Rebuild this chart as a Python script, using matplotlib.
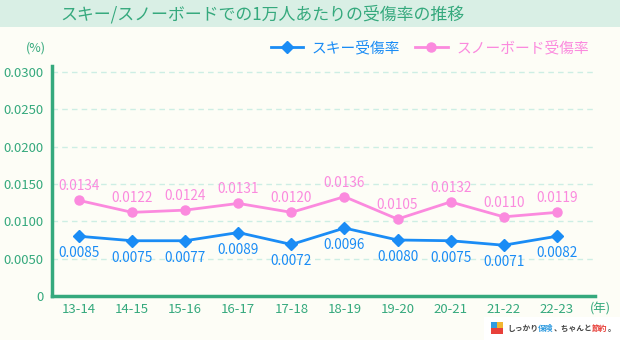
import numpy as np
import matplotlib.pyplot as plt
from matplotlib.patches import Rectangle, Wedge

plt.rcParams['font.family'] = ['Noto Sans CJK JP', 'DejaVu Sans']

seasons = ['13-14', '14-15', '15-16', '16-17', '17-18',
           '18-19', '19-20', '20-21', '21-22', '22-23']
# marker heights as drawn in the chart
ski = [0.0080, 0.0074, 0.0074, 0.0085, 0.0069, 0.0091, 0.0075, 0.0074, 0.0068, 0.0080]
snow = [0.0128, 0.0112, 0.0115, 0.0124, 0.0112, 0.0133, 0.0103, 0.0126, 0.0106, 0.0112]
# data labels printed next to each marker
ski_labels = ['0.0085', '0.0075', '0.0077', '0.0089', '0.0072',
              '0.0096', '0.0080', '0.0075', '0.0071', '0.0082']
snow_labels = ['0.0134', '0.0122', '0.0124', '0.0131', '0.0120',
               '0.0136', '0.0105', '0.0132', '0.0110', '0.0119']
yticks = [0, 0.005, 0.010, 0.015, 0.020, 0.025, 0.030]
ytick_labels = ['0', '0.0050', '0.0100', '0.0150', '0.0200', '0.0250', '0.0300']

bg = '#fdfdf6'
green = '#35a97d'
blue = '#1a8cf5'
pink = '#fb8ade'
grid = '#cdeee4'

fig = plt.figure(figsize=(6.2, 3.4), dpi=100, facecolor=bg)

# title bar
fig.patches.append(Rectangle((0, 1 - 27 / 340), 1, 27 / 340, transform=fig.transFigure,
                             facecolor='#d9efe5', edgecolor='none', zorder=0))
fig.text(60 / 620, 1 - 14 / 340, 'スキー/スノーボードでの1万人あたりの受傷率の推移',
         ha='left', va='center', fontsize=12.2, color=green)

ax = fig.add_axes([52 / 620, 44 / 340, 543 / 620, 230 / 340])
ax.set_facecolor(bg)
x = np.arange(len(seasons))

for y in yticks[1:]:
    ax.axhline(y, color=grid, lw=1, ls=(0, (4, 3)), zorder=1)

ax.plot(x, ski, color=blue, lw=2, marker='D', ms=6.2, zorder=3, label='スキー受傷率')
ax.plot(x, snow, color=pink, lw=2, marker='o', ms=6.5, zorder=3, label='スノーボード受傷率')

for xi, v, s in zip(x, ski, ski_labels):
    ax.annotate(s, (xi, v), xytext=(0, -17), textcoords='offset pixels',
                ha='center', va='center', fontsize=9.8, color=blue)
for xi, v, s in zip(x, snow, snow_labels):
    ax.annotate(s, (xi, v), xytext=(0, 14), textcoords='offset pixels',
                ha='center', va='center', fontsize=9.8, color=pink)

ax.set_xlim(-0.51, 9.72)
ax.set_ylim(0, 0.0308)
ax.set_xticks(x)
ax.set_xticklabels(seasons)
ax.set_yticks(yticks)
ax.set_yticklabels(ytick_labels)
ax.tick_params(length=0, colors=green, labelsize=9.5)
ax.tick_params(axis='y', pad=6)
ax.tick_params(axis='x', pad=5)
for side in ['top', 'right']:
    ax.spines[side].set_visible(False)
for side in ['left', 'bottom']:
    ax.spines[side].set_color(green)
    ax.spines[side].set_linewidth(2.5)

leg = ax.legend(loc='lower right', bbox_to_anchor=(1.0, 1.02), ncol=2, frameon=False,
                fontsize=10.6, handlelength=2.2, columnspacing=1.0, handletextpad=0.6,
                borderaxespad=0)
for t, c in zip(leg.get_texts(), [blue, pink]):
    t.set_color(c)

fig.text(36 / 620, 1 - 48 / 340, '(%)', ha='center', va='center', fontsize=9, color=green)
fig.text(600 / 620, 1 - 309 / 340, '(年)', ha='center', va='center', fontsize=9, color=green)

# brand logo, bottom right
fig.patches.append(Rectangle((484 / 620, 0), 136 / 620, 23 / 340, transform=fig.transFigure,
                             facecolor='white', edgecolor='none', zorder=0))
fig.patches.append(Rectangle((491 / 620, 12 / 340), 6 / 620, 6 / 340, transform=fig.transFigure,
                             facecolor='#2f9be0', edgecolor='none'))
fig.patches.append(Rectangle((497 / 620, 12 / 340), 6 / 620, 6 / 340, transform=fig.transFigure,
                             facecolor='#f2b630', edgecolor='none'))
fig.patches.append(Rectangle((491 / 620, 6 / 340), 12 / 620, 6 / 340, transform=fig.transFigure,
                             facecolor='#e8403a', edgecolor='none'))
parts = [('しっかり', '#444444'), ('保険', '#2f9be0'), ('、ちゃんと', '#444444'),
         ('節約', '#e8403a'), ('。', '#444444')]
xpos = 507 / 620
for txt, col in parts:
    t = fig.text(xpos, 12 / 340, txt, ha='left', va='center', fontsize=5.6,
                 color=col, fontweight='bold')
    fig.canvas.draw()
    bb = t.get_window_extent()
    xpos += bb.width / fig.bbox.width

fig.savefig('out.png', dpi=100, facecolor=bg)
